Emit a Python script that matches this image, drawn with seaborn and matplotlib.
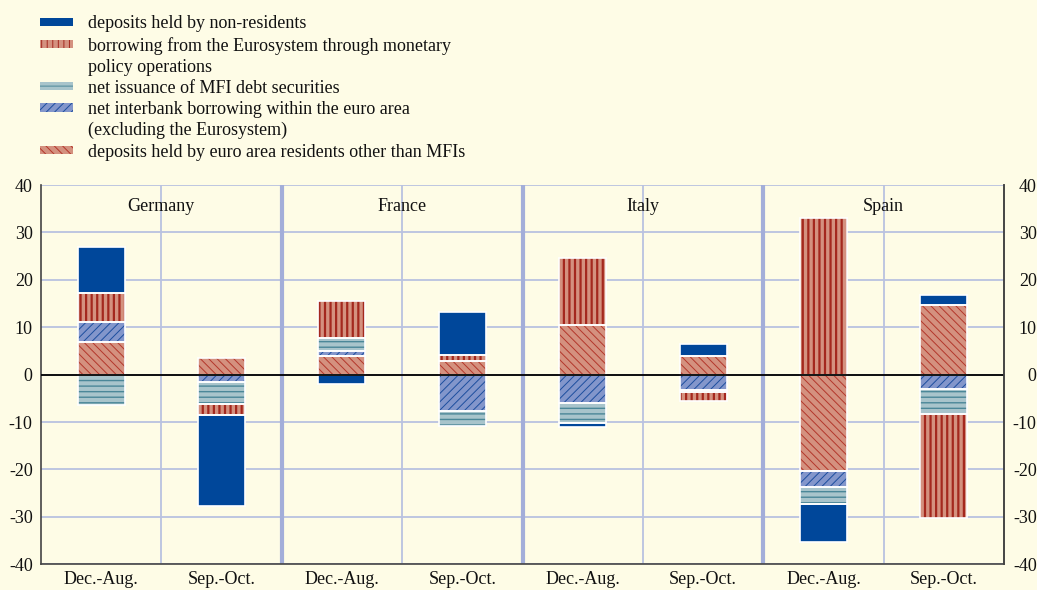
import numpy as np
import pandas as pd
import matplotlib
matplotlib.use("Agg")
import matplotlib.pyplot as plt
from matplotlib.patches import Patch
import seaborn as sns

# ---------------- data ----------------
countries = ["Germany", "France", "Italy", "Spain"]
periods = ["Dec.-Aug.", "Sep.-Oct."]
bar_ids = [f"{c} {p}" for c in countries for p in periods]

residents = [6.8, 3.5, 4.0, 2.8, 10.4, 3.9, -20.3, 14.6]
interbank = [4.3, -1.6, 0.9, -7.6, -6.0, -3.2, -3.5, -3.0]
debt_sec = [-6.3, -4.6, 2.8, -3.2, -4.2, -0.4, -3.5, -5.2]
borrowing = [6.2, -2.3, 7.8, 1.4, 14.1, -1.9, 33.0, -22.0]
non_res = [9.7, -19.2, -2.0, 9.0, -0.9, 2.6, -8.0, 2.3]

lab_nonres = "deposits held by non-residents"
lab_borrow = "borrowing from the Eurosystem through monetary"
lab_borrow2 = "policy operations"
lab_debt = "net issuance of MFI debt securities"
lab_inter = "net interbank borrowing within the euro area"
lab_inter2 = "(excluding the Eurosystem)"
lab_res = "deposits held by euro area residents other than MFIs"

yticks = [-40, -30, -20, -10, 0, 10, 20, 30, 40]

# ---------------- style ----------------
BG = "#FEFCE6"
GRID = "#B9C2E0"
SEP = "#A3AED9"

sns.set_theme(style="white")
plt.rcParams["font.family"] = ["Liberation Serif", "DejaVu Serif"]
plt.rcParams["hatch.linewidth"] = 0.7

styles = {
    "res": dict(fc="#D4917F", hc="#B3372B", hatch="\\\\\\\\", hlw=0.7),
    "inter": dict(fc="#8396CB", hc="#1D4E9E", hatch="////", hlw=0.7),
    "debt": dict(fc="#A8C4CB", hc="#4B8798", hatch="---", hlw=1.0),
    "borrow": dict(fc="#D4917F", hc="#A4281E", hatch="|||", hlw=1.6),
    "nonres": dict(fc="#00479A", hc="#00479A", hatch=None, hlw=0.7),
}

fig = plt.figure(figsize=(10.37, 5.90), dpi=100, facecolor=BG)
ax = fig.add_axes([41 / 1037, 1 - 564.3 / 590, (1004 - 41) / 1037, (564.3 - 185) / 590])
ax.set_facecolor(BG)

layers = [
    (residents, "res"),
    (interbank, "inter"),
    (debt_sec, "debt"),
    (borrowing, "borrow"),
    (non_res, "nonres"),
]

pos = np.zeros(len(bar_ids))
neg = np.zeros(len(bar_ids))
for vals, key in layers:
    st = styles[key]
    v = np.asarray(vals, dtype=float)
    bottom = np.where(v >= 0, pos, neg)
    with plt.rc_context({"hatch.linewidth": st["hlw"]}):
        sns.barplot(x=bar_ids, y=v, order=bar_ids, bottom=bottom, color=st["fc"],
                    saturation=1, width=0.39, errorbar=None, edgecolor=st["hc"],
                    linewidth=0, hatch=st["hatch"], ax=ax, zorder=3)
    sns.barplot(x=bar_ids, y=v, order=bar_ids, bottom=bottom, color="white",
                fill=False, width=0.39, errorbar=None, linewidth=1.2, ax=ax, zorder=4)
    pos += np.where(v >= 0, v, 0)
    neg += np.where(v < 0, v, 0)

# ---------------- axes ----------------
ax.set_xlim(-0.5, len(bar_ids) - 0.5)
ax.set_ylim(-40, 40)
ax.set_xlabel("")
ax.set_ylabel("")
ax.set_yticks(yticks)
ax.set_yticklabels([str(t) for t in yticks])
ax.set_xticks(range(len(bar_ids)))
ax.set_xticklabels(periods * len(countries))
ax.set_xticks(np.arange(-0.5, len(bar_ids), 1.0), minor=True)
ax.tick_params(axis="x", which="major", length=0, pad=5, labelsize=13, colors="#111111")
ax.tick_params(axis="x", which="minor", length=4, width=1.0, direction="out", color="#333333")
ax.tick_params(axis="y", which="major", length=0, pad=6, labelsize=13, colors="#111111")

for y in yticks:
    ax.axhline(y, color=GRID, lw=1.3, zorder=1)
for i in range(len(countries)):
    ax.axvline(2 * i + 0.5, color=GRID, lw=1.3, zorder=1)
for i in range(1, len(countries)):
    ax.axvline(2 * i - 0.5, color=SEP, lw=3, zorder=1)
ax.axhline(0, color="black", lw=1.3, zorder=6)

for s in ["left", "right", "bottom"]:
    ax.spines[s].set_visible(True)
    ax.spines[s].set_color("#444444")
    ax.spines[s].set_linewidth(1.2)
ax.spines["top"].set_visible(False)

for i, c in enumerate(countries):
    ax.text(2 * i + 0.5, 35.5, c, ha="center", va="center", fontsize=13, color="#111111", zorder=7)

ax2 = ax.twinx()
ax2.set_ylim(-40, 40)
ax2.set_yticks(yticks)
ax2.set_yticklabels([str(t) for t in yticks])
ax2.tick_params(axis="y", length=0, pad=23.5, labelsize=13, colors="#111111")
for s in ["left", "top", "bottom"]:
    ax2.spines[s].set_visible(False)
ax2.spines["right"].set_color("#444444")
ax2.spines["right"].set_linewidth(1.2)
ax2.grid(False)
for t in ax2.get_yticklabels():
    t.set_horizontalalignment("right")

# ---------------- legend ----------------
def mk(key):
    st = styles[key]
    with plt.rc_context({"hatch.linewidth": st["hlw"]}):
        return Patch(facecolor=st["fc"], edgecolor=st["hc"], linewidth=0, hatch=st["hatch"])

blank = Patch(facecolor="none", edgecolor="none", linewidth=0)
handles = [mk("nonres"), mk("borrow"), blank, mk("debt"), mk("inter"), blank, mk("res")]
labels = [lab_nonres, lab_borrow, lab_borrow2, lab_debt, lab_inter, lab_inter2, lab_res]
fig.legend(handles, labels, loc="upper left", bbox_to_anchor=(40 / 1037, 1 - 15.5 / 590),
           frameon=False, fontsize=13, handlelength=1.83, handleheight=0.33,
           handletextpad=0.83, labelspacing=0.23, borderpad=0, borderaxespad=0,
           labelcolor="#111111")

fig.savefig("out.png", dpi=100, facecolor=BG)
